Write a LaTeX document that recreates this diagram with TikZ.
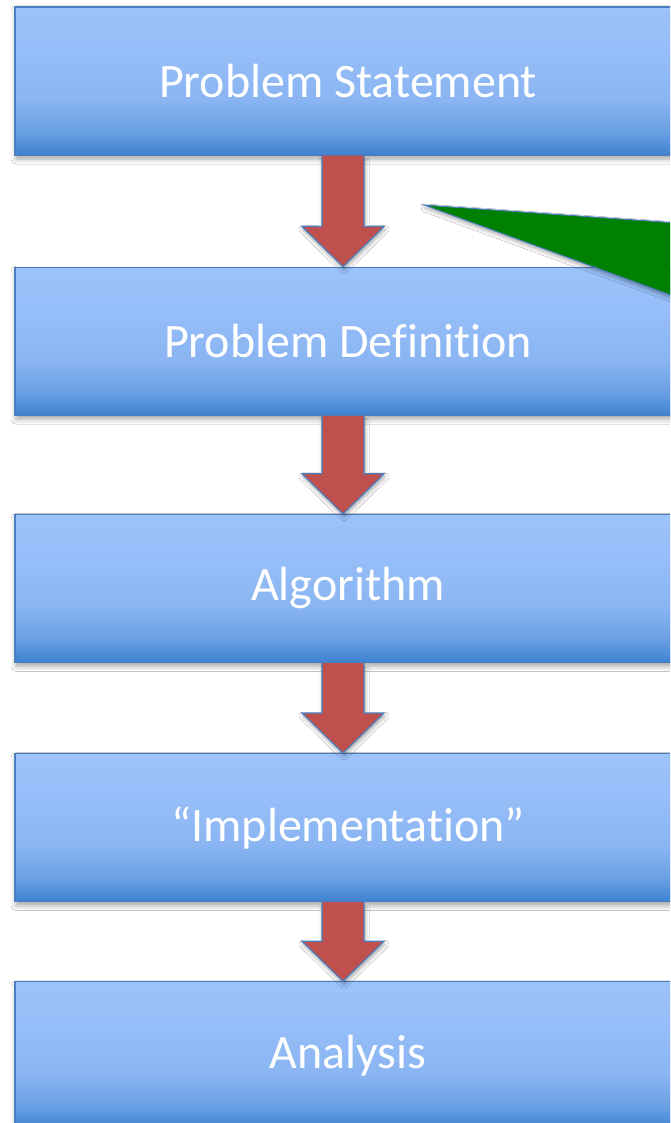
\documentclass[tikz,border=0pt]{standalone}
\usepackage{fontspec}
\setmainfont{Carlito}[Ligatures=NoCommon]
\usetikzlibrary{positioning,calc,shadows.blur}

\definecolor{boxline}{RGB}{74,126,190}
\definecolor{boxa}{RGB}{62,130,208}
\definecolor{boxb}{RGB}{106,160,228}
\definecolor{boxc}{RGB}{138,181,242}
\definecolor{boxd}{RGB}{150,190,248}
\definecolor{boxe}{RGB}{156,195,251}
\definecolor{arrowred}{RGB}{192,80,77}
\definecolor{calloutgreen}{RGB}{0,128,0}

% light at the top, darker towards the lower edge
\pgfdeclareverticalshading{boxshade}{100bp}{color(0bp)=(boxa); color(25bp)=(boxa);
  color(33bp)=(boxb); color(44bp)=(boxc); color(60bp)=(boxd); color(75bp)=(boxe); color(100bp)=(boxe)}

\tikzset{
  stepbox/.style={draw=boxline, line width=1.2pt, shade, shading=boxshade,
    minimum width=666pt, minimum height=148pt, inner sep=0pt, text=white,
    font=\fontsize{48}{58}\selectfont,
    blur shadow={shadow xshift=1pt, shadow yshift=-4pt, shadow blur radius=5pt, shadow opacity=35}},
  flowarrow/.style={fill=arrowred, draw=boxline, line width=1.2pt, line join=miter,
    blur shadow={shadow xshift=1pt, shadow yshift=-3pt, shadow blur radius=4pt, shadow opacity=35}},
}

% fat arrow from the bottom of one box to the top of the next
\newcommand\flowarrow[2]{%
  \filldraw[flowarrow] ($(#1.south)+(-26,0)$) -- ($(#2.north)+(-26,-40)$)
    -- ($(#2.north)+(-46,-40)$) -- ($(#2.north)+(-5,0)$) -- ($(#2.north)+(36,-40)$)
    -- ($(#2.north)+(16,-40)$) -- ($(#1.south)+(16,0)$);
}

\begin{document}
\begin{tikzpicture}[x=1pt,y=-1pt]
  \useasboundingbox (0,0) rectangle (670,1123);
  \clip (0,0) rectangle (670,1123);
  \fill[white] (0,0) rectangle (670,1123);
  %
  \node[stepbox] (stmt) at (348,81) {Problem Statement};
  \node[stepbox, below=111pt of stmt] (defn) {Problem Definition};
  \node[stepbox, below=98pt of defn] (algo) {Algorithm};
  \node[stepbox, below=90pt of algo] (impl) {“Implementation”};
  \node[stepbox, below=79pt of impl] (anal) {Analysis};
  %
  \flowarrow{stmt}{defn}
  \flowarrow{defn}{algo}
  \flowarrow{algo}{impl}
  \flowarrow{impl}{anal}
  % callout pointer
  \filldraw[fill=calloutgreen, draw=boxline, line width=1pt,
    blur shadow={shadow xshift=1pt, shadow yshift=-3pt, shadow blur radius=4pt, shadow opacity=35}]
    (424,205) -- (720,226) -- (720,313) -- cycle;
\end{tikzpicture}
\end{document}
